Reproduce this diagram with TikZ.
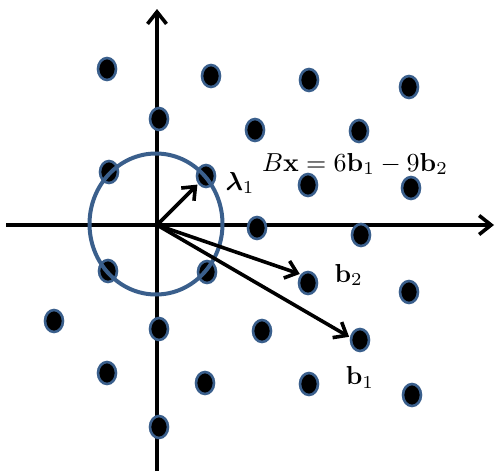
\documentclass[tikz,border=0pt]{standalone}
\usepackage{graphicx}
\usepackage{amsmath}
\usetikzlibrary{positioning,shapes.geometric,arrows.meta}
\definecolor{latticeblue}{RGB}{58,95,140}
\newcommand{\lbl}[1]{\scalebox{2.6}{$#1$}}

\begin{document}
\begin{tikzpicture}[
    x=1pt, y=-1pt,
    dot/.style={ellipse, draw=latticeblue, fill=black, line width=2.6pt, minimum width=18pt, minimum height=22pt, inner sep=0pt},
    ball/.style={ellipse, draw=latticeblue, line width=4pt, minimum width=133pt, minimum height=141pt, inner sep=0pt},
    axis/.style={line width=3.6pt, -{Straight Barb[length=12pt,width=19pt]}},
    vec/.style={line width=3.6pt, -{Straight Barb[length=11pt,width=18pt]}, shorten >=1pt},
    lab/.style={inner sep=0pt},
]
\useasboundingbox (0,0) rectangle (497,471);

% Axes
\coordinate (O)  at (157,225);
\coordinate (xl) at (6,225);
\coordinate (xr) at (494,225);
\coordinate (yb) at (157,471);
\coordinate (yt) at (157,9);
\draw[axis] (xl) -- (xr);
\draw[axis] (yb) -- (yt);

% Lattice points, top to bottom
\node[dot] (p1)   at (107,69)  {};
\node[dot] (p2)   at (211,76)  {};
\node[dot] (p3)   at (309,80)  {};
\node[dot] (p4)   at (409,87)  {};
\node[dot] (p5)   at (159,119) {};
\node[dot] (p6)   at (255,130) {};
\node[dot] (p7)   at (359,131) {};
\node[dot] (p8)   at (109,172) {};
\node[dot] (lam)  at (206,176) {};
\node[dot] (p10)  at (308,185) {};
\node[dot] (p11)  at (411,188) {};
\node[dot] (p12)  at (257,228) {};
\node[dot] (p13)  at (361,235) {};
\node[dot] (p14)  at (108,271) {};
\node[dot] (p15)  at (207,272) {};
\node[dot] (btwo) at (308,283) {};
\node[dot] (p17)  at (409,292) {};
\node[dot] (p18)  at (54,321)  {};
\node[dot] (p19)  at (159,329) {};
\node[dot] (p20)  at (262,331) {};
\node[dot] (bone) at (360,340) {};
\node[dot] (p22)  at (107,373) {};
\node[dot] (p23)  at (205,383) {};
\node[dot] (p24)  at (309,384) {};
\node[dot] (p25)  at (412,395) {};
\node[dot] (p26)  at (159,427) {};

% Ball round the origin
\node[ball] (circ) at (156,224) {};

% Vectors
\draw[vec] (O) -- (lam);
\draw[vec] (O) -- (btwo.north west);
\draw[vec] (O) -- (bone.165);

% Labels
\node[lab, right=9pt of lam, yshift=-7pt] (laml) {\lbl{\boldsymbol{\lambda}_1}};
\node[lab, right=16pt of btwo, yshift=8pt] (btwol) {\lbl{\mathbf{b}_2}};
\node[lab, below=14pt of bone] (bonel) {\lbl{\mathbf{b}_1}};
\node[lab, anchor=base west] (eq) at (262,171) {\lbl{B\mathbf{x}=6\mathbf{b}_1-9\mathbf{b}_2}};

\end{tikzpicture}
\end{document}
